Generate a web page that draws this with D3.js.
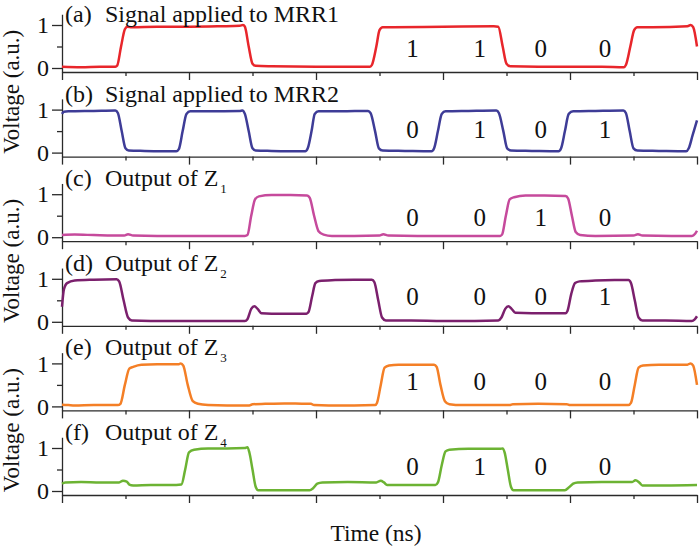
<!DOCTYPE html>
<html>
<head>
<meta charset="utf-8">
<script src="https://cdn.jsdelivr.net/npm/d3@7"></script>
<style>
  html, body { margin: 0; padding: 0; background: #fff; }
  svg { display: block; }
</style>
</head>
<body>
<svg id="chart" width="700" height="549"></svg>
<script>
// ---------------- data ----------------
const panelTags = ["(a)", "(b)", "(c)", "(d)", "(e)", "(f)"];
const panelTitles = ["Signal applied to MRR1", "Signal applied to MRR2", "Output of Z", "Output of Z", "Output of Z", "Output of Z"];
const panelSubs = ["", "", "1", "2", "3", "4"];
const colors = ["#e8262b", "#3e3c97", "#c64a9c", "#7b206d", "#f47f26", "#6cb333"];

const bitLabels = [
  ["1", "1", "0", "0"],
  ["0", "1", "0", "1"],
  ["0", "0", "1", "0"],
  ["0", "0", "0", "1"],
  ["1", "0", "0", "0"],
  ["0", "1", "0", "0"]
];
const bitTimes = [5.52, 6.58, 7.54, 8.55];
const bitLevels = [0.26, 0.35, 0.26, 0.4, 0.37, 0.37];

const xTicks = [0, 1, 2, 3, 4, 5, 6, 7, 8, 9, 10];
const yTicksMajor = [0, 1];
const yTicksMinor = [0.5];

const seriesA = [[0,0.03],[0.3,0.02],[0.6,0.03],[0.84,0.03],[0.87,0.06],[0.93,0.5],[0.99,0.9],[1.03,0.96],[1.1,0.95],[1.5,0.96],[2.0,0.96],[2.5,0.97],[2.8,0.98],[2.85,1.0],[2.88,0.96],[2.94,0.5],[3.0,0.1],[3.05,0.05],[3.3,0.04],[4.0,0.03],[4.5,0.03],[4.85,0.03],[4.88,0.07],[4.95,0.5],[5.0,0.88],[5.05,0.95],[5.2,0.95],[6.0,0.96],[6.8,0.97],[6.87,0.96],[6.94,0.5],[7.0,0.1],[7.06,0.04],[7.5,0.03],[8.5,0.03],[8.85,0.02],[8.88,0.07],[8.95,0.5],[9.01,0.88],[9.06,0.95],[9.3,0.95],[9.85,0.97],[9.9,1.0],[9.94,0.95],[10,0.5]];

const seriesB = [[0,0.9],[0.03,0.95],[0.1,0.96],[0.5,0.97],[0.84,0.98],[0.88,0.92],[0.94,0.5],[1.0,0.1],[1.05,0.05],[1.3,0.04],[1.8,0.03],[1.84,0.08],[1.9,0.5],[1.96,0.9],[2.02,0.96],[2.3,0.96],[2.8,0.97],[2.84,0.98],[2.88,0.9],[2.94,0.5],[3.0,0.1],[3.05,0.05],[3.3,0.04],[3.83,0.03],[3.87,0.1],[3.93,0.5],[3.98,0.9],[4.04,0.96],[4.4,0.96],[4.82,0.97],[4.86,0.92],[4.93,0.5],[4.99,0.1],[5.05,0.05],[5.4,0.04],[5.82,0.03],[5.86,0.1],[5.92,0.5],[5.98,0.9],[6.04,0.96],[6.4,0.97],[6.84,0.98],[6.88,0.92],[6.95,0.5],[7.01,0.1],[7.07,0.05],[7.4,0.04],[7.82,0.03],[7.86,0.1],[7.92,0.5],[7.98,0.9],[8.05,0.96],[8.4,0.97],[8.84,0.98],[8.88,0.92],[8.94,0.5],[9.0,0.1],[9.06,0.05],[9.4,0.04],[9.83,0.03],[9.87,0.1],[9.93,0.4],[10,0.75]];

const seriesC = [[0,0.05],[0.2,0.06],[0.5,0.05],[0.8,0.04],[0.98,0.04],[1.04,0.07],[1.12,0.04],[1.5,0.03],[2.0,0.03],[2.5,0.03],[2.88,0.03],[2.92,0.05],[2.98,0.5],[3.04,0.88],[3.1,0.95],[3.3,0.98],[3.6,0.98],[3.86,0.97],[3.9,0.92],[3.97,0.5],[4.04,0.14],[4.12,0.06],[4.25,0.03],[4.6,0.03],[5.0,0.04],[5.06,0.07],[5.14,0.04],[5.6,0.03],[6.4,0.03],[6.9,0.03],[6.93,0.06],[6.99,0.5],[7.05,0.88],[7.12,0.93],[7.3,0.97],[7.6,0.97],[7.93,0.96],[7.97,0.9],[8.03,0.5],[8.09,0.12],[8.16,0.05],[8.4,0.03],[9.0,0.04],[9.07,0.07],[9.14,0.04],[9.6,0.03],[9.92,0.03],[9.97,0.08],[10,0.15]];

const seriesD = [[0,0.35],[0.03,0.75],[0.08,0.9],[0.2,0.96],[0.5,0.98],[0.86,0.99],[0.9,0.94],[0.97,0.5],[1.04,0.1],[1.1,0.03],[1.4,0.02],[2.0,0.02],[2.5,0.02],[2.88,0.02],[2.92,0.06],[2.98,0.3],[3.03,0.36],[3.08,0.3],[3.14,0.2],[3.3,0.19],[3.6,0.19],[3.85,0.19],[3.88,0.22],[3.94,0.6],[3.99,0.9],[4.05,0.95],[4.3,0.97],[4.6,0.98],[4.88,0.98],[4.92,0.92],[4.98,0.5],[5.04,0.1],[5.1,0.03],[5.5,0.03],[6.0,0.02],[6.5,0.02],[6.87,0.03],[6.92,0.1],[6.98,0.3],[7.03,0.36],[7.08,0.3],[7.14,0.21],[7.4,0.2],[7.7,0.2],[7.93,0.2],[7.96,0.25],[8.02,0.65],[8.08,0.9],[8.15,0.94],[8.4,0.96],[8.7,0.97],[8.92,0.97],[8.96,0.9],[9.02,0.5],[9.08,0.1],[9.14,0.03],[9.5,0.03],[9.92,0.02],[9.96,0.05],[10,0.13]];

const seriesE = [[0,0.04],[0.1,0.03],[0.2,0.02],[0.5,0.03],[0.88,0.03],[0.92,0.06],[0.99,0.5],[1.06,0.88],[1.12,0.92],[1.25,0.97],[1.5,0.98],[1.84,0.98],[1.87,1.0],[1.91,0.95],[1.98,0.5],[2.06,0.12],[2.14,0.06],[2.3,0.03],[2.6,0.02],[2.95,0.02],[3.0,0.05],[3.2,0.06],[3.5,0.07],[3.85,0.06],[3.92,0.06],[3.97,0.03],[4.2,0.02],[4.6,0.02],[4.93,0.03],[4.96,0.08],[5.02,0.5],[5.08,0.9],[5.15,0.95],[5.3,0.97],[5.6,0.97],[5.86,0.97],[5.9,0.92],[5.96,0.5],[6.03,0.12],[6.1,0.05],[6.3,0.03],[6.7,0.03],[7.05,0.03],[7.1,0.05],[7.5,0.06],[7.95,0.05],[8.0,0.03],[8.5,0.03],[8.92,0.03],[8.96,0.08],[9.02,0.5],[9.08,0.9],[9.15,0.95],[9.4,0.97],[9.85,0.97],[9.9,1.0],[9.94,0.95],[10,0.5]];

const seriesF = [[0,0.17],[0.05,0.2],[0.3,0.21],[0.6,0.2],[0.9,0.2],[0.96,0.24],[1.02,0.22],[1.06,0.15],[1.12,0.13],[1.4,0.14],[1.8,0.14],[1.88,0.15],[1.94,0.5],[2.0,0.9],[2.08,0.96],[2.3,0.99],[2.6,0.99],[2.88,1.0],[2.92,1.02],[2.95,0.9],[3.0,0.5],[3.05,0.1],[3.09,0.02],[3.4,0.02],[3.9,0.02],[3.95,0.06],[4.02,0.17],[4.1,0.2],[4.5,0.21],[4.95,0.2],[5.02,0.24],[5.07,0.2],[5.12,0.14],[5.4,0.14],[5.88,0.14],[5.92,0.2],[5.98,0.6],[6.04,0.92],[6.1,0.96],[6.4,0.98],[6.9,0.98],[6.94,0.99],[6.97,0.9],[7.02,0.5],[7.07,0.1],[7.11,0.02],[7.5,0.02],[7.92,0.02],[7.98,0.08],[8.05,0.17],[8.12,0.2],[8.5,0.21],[8.98,0.21],[9.03,0.25],[9.09,0.2],[9.14,0.13],[9.5,0.13],[10,0.14]];

const allSeries = [seriesA, seriesB, seriesC, seriesD, seriesE, seriesF];

// ---------------- layout ----------------
const FONT = "'Liberation Serif', 'Times New Roman', Tinos, 'DejaVu Serif', serif";
const svg = d3.select("#chart");
svg.append("rect").attr("width", 700).attr("height", 549).attr("fill", "#fff");

const left = 62, right = 697;
const firstAxisY = 72, panelStep = 84.6;
const unitPx = 43;          // pixels per 1.0 in voltage
const zeroOffset = 4;       // y=0 sits this far above the axis line
const yBottom = -zeroOffset / unitPx;
const yTopAxis = 1.25;

const x = d3.scaleLinear().domain([0, 10]).range([left, right]);
const line = d3.line().curve(d3.curveMonotoneX);

function txt(sel) {
  return sel.attr("font-family", FONT).style("font-family", FONT).attr("fill", "#111");
}

allSeries.forEach((data, i) => {
  const axisY = firstAxisY + i * panelStep;
  const y = d3.scaleLinear().domain([yBottom, yTopAxis])
    .range([axisY, axisY - (yTopAxis - yBottom) * unitPx]);

  const g = svg.append("g");

  // x axis: major ticks (even) and minor ticks (odd)
  const xMajor = d3.axisBottom(x).tickValues(xTicks.filter(t => t % 2 === 0))
    .tickSize(8).tickSizeOuter(0).tickFormat("");
  const xMinor = d3.axisBottom(x).tickValues(xTicks.filter(t => t % 2 === 1))
    .tickSize(4).tickSizeOuter(0).tickFormat("");
  g.append("g").attr("transform", `translate(0,${axisY})`).call(xMajor);
  const gxMin = g.append("g").attr("transform", `translate(0,${axisY})`).call(xMinor);
  gxMin.select(".domain").remove();

  // y axis
  const yMajor = d3.axisLeft(y).tickValues(yTicksMajor).tickSize(10).tickSizeOuter(0)
    .tickPadding(3).tickFormat(d3.format("d"));
  const yMinor = d3.axisLeft(y).tickValues(yTicksMinor).tickSize(5).tickSizeOuter(0).tickFormat("");
  const gy = g.append("g").attr("transform", `translate(${left},0)`).call(yMajor);
  const gyMin = g.append("g").attr("transform", `translate(${left},0)`).call(yMinor);
  gyMin.select(".domain").remove();

  g.selectAll(".domain, .tick line").attr("stroke", "#2a2a2a").attr("stroke-width", 1.3);
  txt(gy.selectAll(".tick text")).attr("font-size", 24).style("font-size", "24px");

  // waveform
  g.append("path")
    .attr("d", line(data.map(d => [x(d[0]), y(d[1])])))
    .attr("fill", "none")
    .attr("stroke", colors[i])
    .attr("stroke-width", 2.5)
    .attr("stroke-linejoin", "round");

  // panel title
  const ty = Math.max(y(1) - 8, 22);
  txt(g.append("text")).attr("x", 65).attr("y", ty).style("font-size", "24px").text(panelTags[i]);
  const tt = txt(g.append("text")).attr("x", 105).attr("y", ty).style("font-size", "24px");
  tt.append("tspan").text(panelTitles[i]);
  if (panelSubs[i]) {
    tt.append("tspan").attr("dx", 2).attr("dy", 7).style("font-size", "13px").text(panelSubs[i]);
  }

  // bit labels
  bitLabels[i].forEach((b, k) => {
    txt(g.append("text"))
      .attr("x", x(bitTimes[k]))
      .attr("y", y(bitLevels[i]))
      .attr("text-anchor", "middle")
      .style("font-size", "25px")
      .text(b);
  });
});

// y-axis titles (one per pair of panels)
for (let p = 0; p < 3; p++) {
  const upperY1 = firstAxisY + (2 * p) * panelStep - zeroOffset - unitPx;
  const lowerY0 = firstAxisY + (2 * p + 1) * panelStep - zeroOffset;
  const cy = (upperY1 + lowerY0) / 2 + 3;
  txt(svg.append("text"))
    .attr("transform", `translate(19,${cy}) rotate(-90)`)
    .attr("text-anchor", "middle")
    .style("font-size", "23px")
    .text("Voltage (a.u.)");
}

// x-axis title
txt(svg.append("text"))
  .attr("x", 376).attr("y", 541)
  .attr("text-anchor", "middle")
  .style("font-size", "23.5px")
  .text("Time (ns)");
</script>
</body>
</html>
